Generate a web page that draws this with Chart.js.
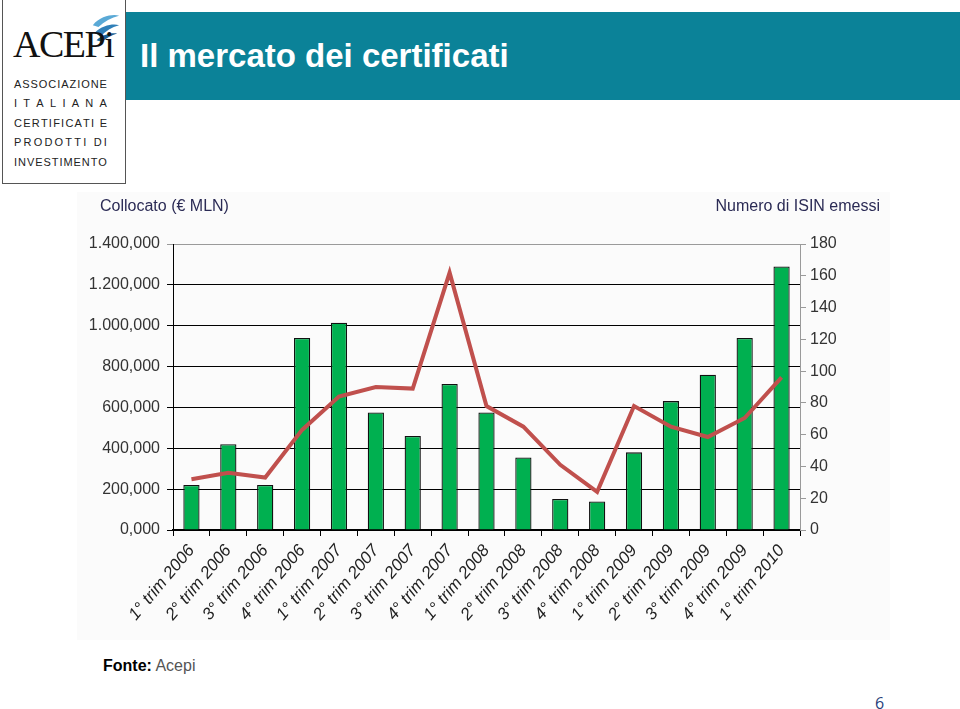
<!DOCTYPE html>
<html>
<head>
<meta charset="utf-8">
<script src="https://cdn.jsdelivr.net/npm/chart.js@4/dist/chart.umd.min.js"></script>
<style>
  body { margin: 0; width: 960px; height: 709px; background: #fff; position: relative; overflow: hidden; font-family: "Liberation Sans", Arial, sans-serif; }
  #logo { position: absolute; left: 2px; top: -1px; width: 122px; height: 183px; border: 1px solid #555; background: #fff; }
  #logo .brand { position: absolute; left: 10px; top: 22px; font-family: "Liberation Serif", "DejaVu Serif", serif; font-size: 38px; color: #111; letter-spacing: -1.5px; }
  #logo .line { position: absolute; left: 11px; width: 93px; font-size: 11px; color: #222; display: flex; justify-content: space-between; }
  #header { position: absolute; left: 126px; top: 12px; width: 834px; height: 88px; background: #0b8298; }
  #header h1 { margin: 0; position: absolute; left: 14px; top: 25px; font-size: 33px; font-weight: bold; color: #fff; }
  #chartBox { position: absolute; left: 77px; top: 192px; width: 813px; height: 448px; background: #fbfbfb; }
  #source { position: absolute; left: 103px; top: 657px; font-size: 16px; color: #555; }
  #source b { color: #000; }
  #page { position: absolute; left: 875px; top: 692px; font-family: "Open Sans", sans-serif; font-size: 16px; color: #27407a; }
</style>
</head>
<body>
<div id="logo">
  <svg style="position:absolute;left:86px;top:12px" width="32" height="30" viewBox="0 0 34 32">
    <path d="M4 14 C12 4, 26 2, 32 4 C24 6, 16 10, 10 16 Z" fill="#5aa9d6"/>
    <path d="M6 22 C14 14, 26 12, 32 14 C24 16, 18 20, 12 26 Z" fill="#2f7fb8"/>
    <path d="M8 30 C14 24, 24 22, 30 23 C24 25, 18 28, 14 32 Z" fill="#1a5f96"/>
  </svg>
  <div class="brand">ACEPi</div>
  <div class="line" style="top:78px"><span>A</span><span>S</span><span>S</span><span>O</span><span>C</span><span>I</span><span>A</span><span>Z</span><span>I</span><span>O</span><span>N</span><span>E</span></div>
  <div class="line" style="top:97px"><span>I</span><span>T</span><span>A</span><span>L</span><span>I</span><span>A</span><span>N</span><span>A</span></div>
  <div class="line" style="top:117px"><span>C</span><span>E</span><span>R</span><span>T</span><span>I</span><span>F</span><span>I</span><span>C</span><span>A</span><span>T</span><span>I</span><span>&nbsp;</span><span>E</span></div>
  <div class="line" style="top:136px"><span>P</span><span>R</span><span>O</span><span>D</span><span>O</span><span>T</span><span>T</span><span>I</span><span>&nbsp;</span><span>D</span><span>I</span></div>
  <div class="line" style="top:156px"><span>I</span><span>N</span><span>V</span><span>E</span><span>S</span><span>T</span><span>I</span><span>M</span><span>E</span><span>N</span><span>T</span><span>O</span></div>
</div>
<div id="header"><h1>Il mercato dei certificati</h1></div>
<div id="chartBox"><canvas id="chart" width="813" height="448"></canvas></div>
<div id="source"><b>Fonte:</b> Acepi</div>
<div id="page">6</div>

<script>
// categories (quarters)
const quarters = [
  "1° trim 2006", "2° trim 2006", "3° trim 2006", "4° trim 2006",
  "1° trim 2007", "2° trim 2007", "3° trim 2007", "4° trim 2007",
  "1° trim 2008", "2° trim 2008", "3° trim 2008", "4° trim 2008",
  "1° trim 2009", "2° trim 2009", "3° trim 2009", "4° trim 2009",
  "1° trim 2010"
];

// Collocato (€ MLN) - bars, left axis
const collocato = [
  220000, 420000, 220000, 940000, 1015000, 575000, 460000, 715000,
  575000, 355000, 152000, 140000, 380000, 631000, 760000, 940000, 1290000
];

// Numero di ISIN emessi - line, right axis
const isinEmessi = [
  32, 36, 33, 63, 84, 90, 89, 162, 78, 65, 41, 24, 78, 65, 58.5, 70.5, 96
];

// tick labels
const leftTickLabels = ["0,000", "200,000", "400,000", "600,000", "800,000", "1.000,000", "1.200,000", "1.400,000"];
const rightTickLabels = ["0", "20", "40", "60", "80", "100", "120", "140", "160", "180"];

const leftTitle = "Collocato (€ MLN)";
const rightTitle = "Numero di ISIN emessi";

const FONT = "'Liberation Sans', Arial, sans-serif";

// axis titles above the plot
const titlesPlugin = {
  id: "axisTitles",
  afterDraw(chart) {
    const ctx = chart.ctx;
    ctx.save();
    ctx.font = "16px " + FONT;
    ctx.fillStyle = "#2b2b55";
    ctx.textBaseline = "middle";
    ctx.textAlign = "left";
    ctx.fillText(leftTitle, 23, 15);
    ctx.textAlign = "right";
    ctx.fillText(rightTitle, 803, 15);
    ctx.restore();
  }
};

new Chart(document.getElementById("chart"), {
  data: {
    labels: quarters,
    datasets: [
      {
        type: "line",
        label: rightTitle,
        data: isinEmessi,
        yAxisID: "y1",
        borderColor: "#c0504d",
        borderWidth: 4,
        pointRadius: 0,
        tension: 0,
        order: 0
      },
      {
        type: "bar",
        label: leftTitle,
        data: collocato,
        yAxisID: "y",
        backgroundColor: "#00b050",
        borderColor: "#111",
        borderWidth: 1.3,
        barPercentage: 0.44,
        categoryPercentage: 1,
        order: 1
      }
    ]
  },
  options: {
    responsive: false,
    animation: false,
    layout: { padding: { top: 52, left: 0, right: 0, bottom: 0 } },
    plugins: { legend: { display: false }, tooltip: { enabled: false } },
    scales: {
      x: {
        afterFit(scale) { scale.height = 110; },
        grid: { drawOnChartArea: false, drawTicks: true, tickLength: 6, color: "#000", offset: true },
        border: { color: "#000", width: 1.5 },
        ticks: {
          autoSkip: false,
          minRotation: 50,
          maxRotation: 50,
          padding: 5,
          color: "#222",
          font: { family: FONT, size: 17, style: "italic" }
        }
      },
      y: {
        position: "left",
        min: 0,
        max: 1400000,
        afterFit(scale) { scale.width = 96; },
        afterBuildTicks(scale) {
          scale.ticks = leftTickLabels.map((_, i) => ({ value: i * 200000 }));
        },
        grid: {
          color: (c) => (c.tick && c.tick.value === 1400000 ? "#9a9a9a" : "#000"),
          lineWidth: 1,
          tickLength: 6
        },
        border: { color: "#000", width: 1 },
        ticks: {
          padding: 7,
          color: "#333",
          font: { family: FONT, size: 16 },
          callback: (v, i) => leftTickLabels[i]
        }
      },
      y1: {
        position: "right",
        min: 0,
        max: 180,
        afterFit(scale) { scale.width = 90; },
        afterBuildTicks(scale) {
          scale.ticks = rightTickLabels.map((_, i) => ({ value: i * 20 }));
        },
        grid: { drawOnChartArea: false, color: "#9a9a9a", tickLength: 6 },
        border: { color: "#9a9a9a", width: 1 },
        ticks: {
          padding: 4,
          color: "#333",
          font: { family: FONT, size: 16 },
          callback: (v, i) => rightTickLabels[i]
        }
      }
    }
  },
  plugins: [titlesPlugin]
});
</script>
</body>
</html>
